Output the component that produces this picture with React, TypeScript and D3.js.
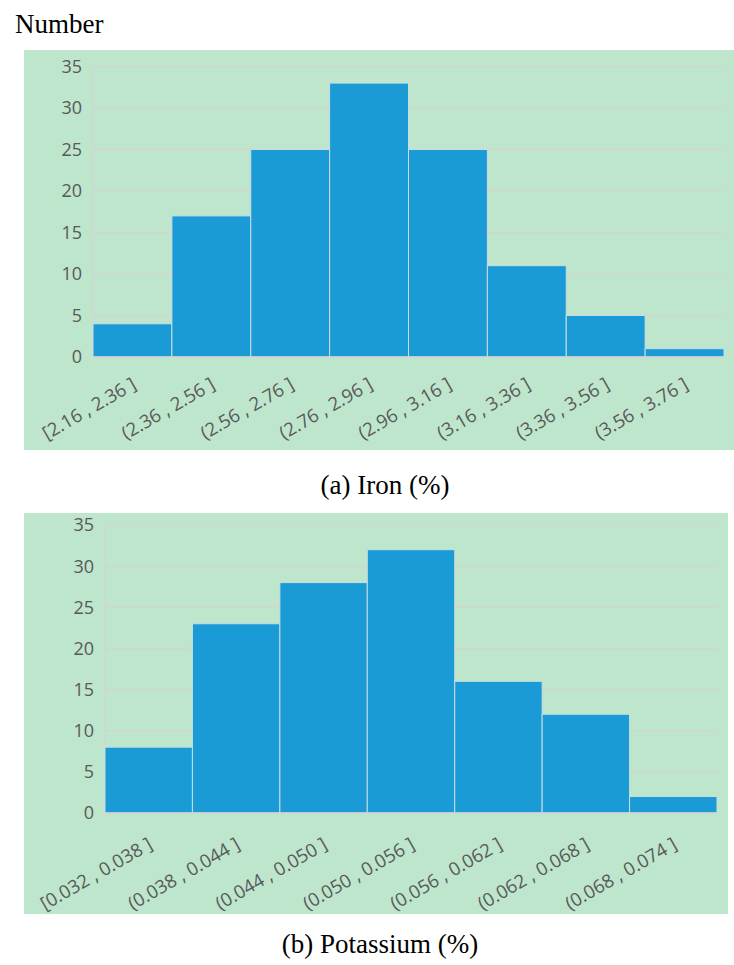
import React from 'react';
import * as d3 from 'd3';

// histogram data
const ironBins = [
  '[2.16 , 2.36 ]',
  '(2.36 , 2.56 ]',
  '(2.56 , 2.76 ]',
  '(2.76 , 2.96 ]',
  '(2.96 , 3.16 ]',
  '(3.16 , 3.36 ]',
  '(3.36 , 3.56 ]',
  '(3.56 , 3.76 ]',
];
const ironCounts = [4, 17, 25, 33, 25, 11, 5, 1];

const potassiumBins = [
  '[0.032 , 0.038 ]',
  '(0.038 , 0.044 ]',
  '(0.044 , 0.050 ]',
  '(0.050 , 0.056 ]',
  '(0.056 , 0.062 ]',
  '(0.062 , 0.068 ]',
  '(0.068 , 0.074 ]',
];
const potassiumCounts = [8, 23, 28, 32, 16, 12, 2];

const yTicks = [0, 5, 10, 15, 20, 25, 30, 35];

const BG = '#bde6cc';
const BAR = '#1a9bd6';
const GRID = '#d2d6d2';
const TICK = '#595959';
const SANS = '"Open Sans", "Noto Sans", sans-serif';
const SERIF = '"Liberation Serif", "Times New Roman", serif';

type PanelProps = {
  bins: string[];
  counts: number[];
  bg: [number, number, number, number]; // x0, y0, x1, y1
  plot: [number, number, number, number];
  labelDy: number;
};

function Histogram({ bins, counts, bg, plot, labelDy }: PanelProps) {
  const [px0, py0, px1, py1] = plot;
  const x = d3.scaleBand().domain(bins).range([px0, px1]).padding(0);
  const y = d3.scaleLinear().domain([0, 35]).range([py1, py0]);

  return (
    <g>
      <rect x={bg[0]} y={bg[1]} width={bg[2] - bg[0]} height={bg[3] - bg[1]} fill={BG} />
      {yTicks.map((t) => (
        <g key={t}>
          <line x1={px0} x2={px1 + 1} y1={y(t)} y2={y(t)} stroke={GRID} strokeWidth={1.5} />
          <text
            x={px0 - 11}
            y={y(t)}
            dy="0.36em"
            textAnchor="end"
            fontFamily={SANS}
            fontSize={18}
            fill={TICK}
          >
            {t}
          </text>
        </g>
      ))}
      <line x1={px0} x2={px0} y1={y(35)} y2={y(0)} stroke={GRID} strokeWidth={1.5} />
      {bins.map((b, i) => (
        <rect
          key={b}
          x={x(b)!}
          y={y(counts[i])}
          width={x.bandwidth()}
          height={y(0) - y(counts[i])}
          fill={BAR}
          stroke="#c9dde4"
          strokeWidth={1}
        />
      ))}
      <line x1={px0} x2={px1} y1={y(0)} y2={y(0)} stroke={GRID} strokeWidth={1.5} />
      {bins.map((b) => {
        const cx = x(b)! + x.bandwidth() / 2 + 5;
        const cy = y(0) + labelDy;
        return (
          <text
            key={'l' + b}
            transform={`translate(${cx},${cy}) rotate(-30)`}
            textAnchor="end"
            fontFamily={SANS}
            fontSize={18.5}
            fill={TICK}
          >
            {b}
          </text>
        );
      })}
    </g>
  );
}

export default function App() {
  return (
    <svg
      width={734}
      height={965}
      style={{ position: 'absolute', left: 0, top: 0, background: '#fff' }}
    >
      <text x={15} y={33} fontFamily={SERIF} fontSize={27} fill="#000">
        Number
      </text>
      <Histogram
        bins={ironBins}
        counts={ironCounts}
        bg={[24, 50, 734, 450]}
        plot={[93, 66.5, 724, 357]}
        labelDy={31}
      />
      <text x={385} y={494} textAnchor="middle" fontFamily={SERIF} fontSize={27} fill="#000">
        (a) Iron (%)
      </text>
      <Histogram
        bins={potassiumBins}
        counts={potassiumCounts}
        bg={[24, 513, 728, 914]}
        plot={[105, 525, 717, 813]}
        labelDy={35}
      />
      <text x={380} y={953} textAnchor="middle" fontFamily={SERIF} fontSize={27} fill="#000">
        (b) Potassium (%)
      </text>
    </svg>
  );
}
